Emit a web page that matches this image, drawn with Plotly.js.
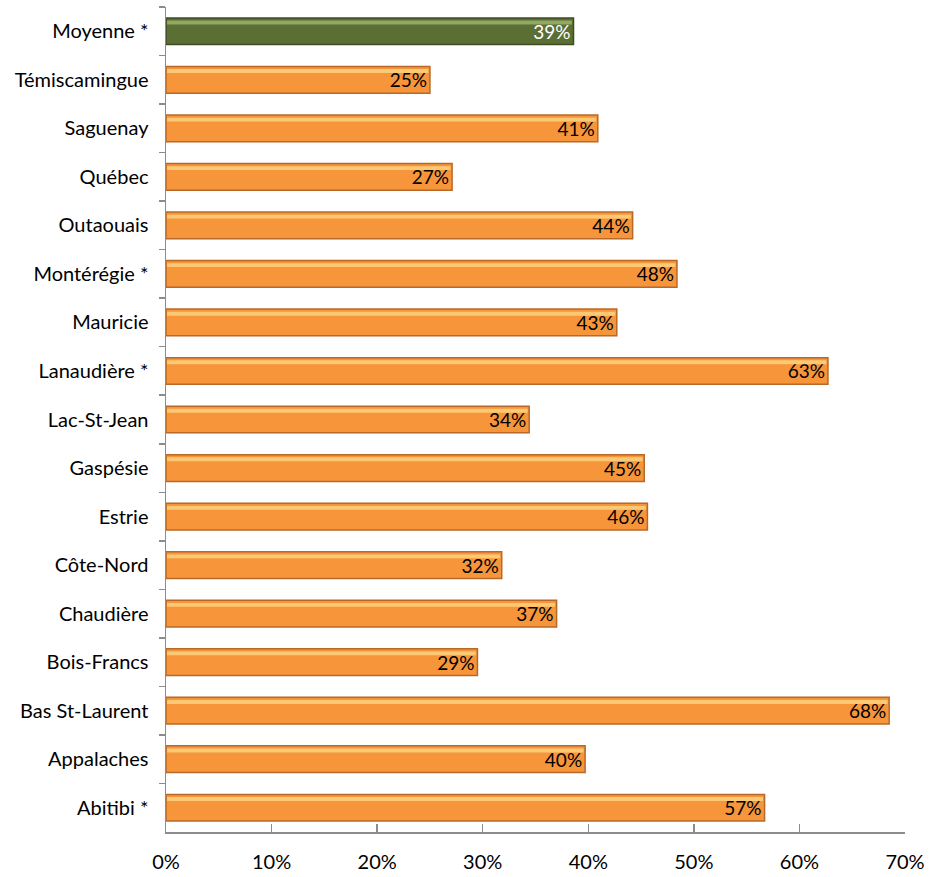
<!DOCTYPE html>
<html><head><meta charset="utf-8">
<script src="https://cdn.plot.ly/plotly-3.0.1.min.js"></script>
<style>body{margin:0;background:#fff}#c{width:934px;height:877px}</style>
</head><body><div id="c"></div>
<script>
var categories = ["Moyenne *","Témiscamingue","Saguenay","Québec","Outaouais","Montérégie *","Mauricie","Lanaudière *","Lac-St-Jean","Gaspésie","Estrie","Côte-Nord","Chaudière","Bois-Francs","Bas St-Laurent","Appalaches","Abitibi *"];
var values = [38.6,25.0,40.9,27.1,44.2,48.4,42.7,62.7,34.4,45.3,45.6,31.8,37.0,29.5,68.5,39.7,56.7];
var labels = ["39%","25%","41%","27%","44%","48%","43%","63%","34%","45%","46%","32%","37%","29%","68%","40%","57%"];
var xTicks = [0,10,20,30,40,50,60,70];
var xTickText = ["0%","10%","20%","30%","40%","50%","60%","70%"];

var fill = categories.map(function(c,i){return i===0?"#5B6E33":"#F7953B";});
var edge = categories.map(function(c,i){return i===0?"#3F4E22":"#B8692A";});
var hilite = categories.map(function(c,i){return i===0?"#9DB36E":"#FCD27E";});
var txtCol = categories.map(function(c,i){return i===0?"#FFFFFF":"#000000";});
var FONT = "Lato, sans-serif";

var main = {
  type:"bar", orientation:"h", y:categories, x:values,
  width:0.55,
  marker:{color:fill, line:{color:edge, width:1.5}},
  text:labels, textposition:"inside", insidetextanchor:"end", constraintext:"none",
  textfont:{family:FONT, size:19, color:txtCol},
  cliponaxis:false, hoverinfo:"skip"
};
var shine = {
  type:"bar", orientation:"h", y:categories, x:values.map(function(v){return v-0.25;}),
  base:0.1, width:0.08, offset:-0.22,
  marker:{color:hilite, line:{width:0}}, opacity:0.85,
  hoverinfo:"skip"
};

var layout = {
  width:934, height:877,
  margin:{l:166, r:29, t:7, b:45},
  barmode:"overlay", showlegend:false,
  paper_bgcolor:"#fff", plot_bgcolor:"#fff",
  font:{family:FONT, size:20, color:"#000"},
  xaxis:{range:[0,70], tickvals:xTicks, ticktext:xTickText, showgrid:false, zeroline:false,
         showline:true, linecolor:"#8C8C8C", linewidth:1.5, ticks:"inside", ticklen:8,
         tickcolor:"#8C8C8C", tickwidth:1.5, ticklabelstandoff:11,
         tickfont:{family:FONT,size:20,color:"#000"}, fixedrange:true},
  yaxis:{type:"category", categoryorder:"array", categoryarray:categories, autorange:"reversed",
         showgrid:false, zeroline:false, showline:true, linecolor:"#8C8C8C", linewidth:1.5,
         ticks:"outside", tickson:"boundaries", ticklen:6, tickcolor:"#8C8C8C", tickwidth:1.5,
         ticklabelstandoff:12, tickfont:{family:FONT,size:20,color:"#000"}}
};
Plotly.newPlot("c",[main,shine],layout,{displayModeBar:false,staticPlot:true});
</script></body></html>
